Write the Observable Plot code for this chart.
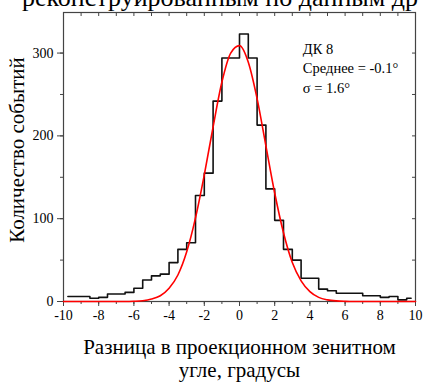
<!DOCTYPE html>
<html>
<head>
<meta charset="utf-8">
<script src="https://cdn.jsdelivr.net/npm/d3@7"></script>
<script src="https://cdn.jsdelivr.net/npm/@observablehq/plot@0.6"></script>
<style>
  html, body { margin: 0; padding: 0; background: #fff; }
  #wrap { position: relative; width: 423px; height: 385px; overflow: hidden; }
  #title { position: absolute; left: 22px; top: -15px; font-size: 26px; line-height: 26px; font-family: "Liberation Serif", "Times New Roman", serif; white-space: nowrap; color: #000; }
  #chart { position: absolute; left: 0; top: 0; }
  #chart svg text { font-family: "Liberation Serif", "Times New Roman", serif !important; }
</style>
</head>
<body>
<div id="wrap">
  <div id="chart"></div>
  <div id="title">реконструированным по данным др</div>
</div>
<script>
// Histogram bins (width 0.5°), centers from -9.75 to 9.75
const binCenters = d3.range(-9.75, 10, 0.5);
const counts = [
  6, 6, 6, 4, 5, 9, 9, 11, 16, 26,
  31, 33, 47, 63, 71, 128, 155, 242, 294, 294,
  323, 294, 213, 136, 98, 63, 50, 28, 28, 15,
  13, 10, 10, 10, 7, 7, 5, 6, 2, 4
];
// Gaussian fit curve
const fitX = d3.range(-10, 10.01, 0.5);
const fitY = [
  0, 0, 0, 0, 0, 0, 0, 0, 0.3, 1,
  3, 7, 16, 32, 60, 101, 153, 211, 265, 300,
  309, 289, 245, 188, 131, 83, 47, 25, 12, 5,
  2, 0.7, 0.2, 0, 0, 0, 0, 0, 0, 0, 0
];
const xTicks = [-10, -8, -6, -4, -2, 0, 2, 4, 6, 8, 10];
const yTicks = [0, 100, 200, 300];
const annotation = ["ДК 8", "Среднее = -0.1°", "σ = 1.6°"];
const xLabel = "Разница в проекционном зенитном\nугле, градусы";
const yLabel = "Количество событий";

const hist = binCenters.map((x, i) => ({x, y: counts[i]}));
const fit = fitX.map((x, i) => ({x, y: fitY[i]}));

const font = "'Liberation Serif', 'Times New Roman', serif";
const axisColor = "#444";
const fmt = d => String(d);

const plot = Plot.plot({
  width: 423,
  height: 385,
  marginLeft: 63,
  marginRight: 8,
  marginTop: 12,
  marginBottom: 84,
  style: {fontFamily: font, fontSize: "14px", color: "#000", background: "#fff"},
  x: {domain: [-10, 10]},
  y: {domain: [0, 349]},
  marks: [
    // bottom axis: major + minor
    Plot.axisX({ticks: xTicks, tickFormat: fmt, tickSize: 5, tickPadding: 4, fontSize: 14, fontFamily: font, label: null, stroke: axisColor, fill: "#000"}),
    Plot.axisX({ticks: d3.range(-10, 11, 1), tickSize: 3, text: null, label: null, stroke: axisColor}),
    // top mirror ticks (inward)
    Plot.axisX({anchor: "top", ticks: d3.range(-10, 11, 1), tickSize: 3, dy: 3, text: null, label: null, stroke: axisColor}),
    // left axis
    Plot.axisY({ticks: yTicks, tickFormat: fmt, tickSize: 6, tickPadding: 4, fontSize: 14, fontFamily: font, label: null, stroke: axisColor, fill: "#000"}),
    Plot.axisY({ticks: d3.range(0, 349, 50), tickSize: 3, text: null, label: null, stroke: axisColor}),
    // right mirror ticks (inward)
    Plot.axisY({anchor: "right", ticks: d3.range(0, 349, 50), tickSize: 4, dx: -4, text: null, label: null, stroke: axisColor}),
    Plot.frame({stroke: axisColor, strokeWidth: 1.2}),
    Plot.line(hist, {x: "x", y: "y", curve: "step", stroke: "#111", strokeWidth: 1.6}),
    Plot.line(fit, {x: "x", y: "y", curve: "monotone-x", stroke: "#f00", strokeWidth: 1.6}),
    Plot.text([annotation.join("\n")], {x: 3.6, y: 283, text: d => d, textAnchor: "start", lineAnchor: "middle", lineHeight: 1.36, fontSize: 14.5, fontFamily: font, fill: "#000"}),
    Plot.text([xLabel], {frameAnchor: "bottom", dy: 35, lineAnchor: "top", text: d => d, fontSize: 21, fontFamily: font, lineHeight: 1.14, fill: "#000"}),
    Plot.text([yLabel], {frameAnchor: "left", dx: -46.5, dy: -7, rotate: -90, textAnchor: "middle", lineAnchor: "middle", text: d => d, fontSize: 21, fontFamily: font, fill: "#000"})
  ]
});
document.getElementById("chart").appendChild(plot);
</script>
</body>
</html>
